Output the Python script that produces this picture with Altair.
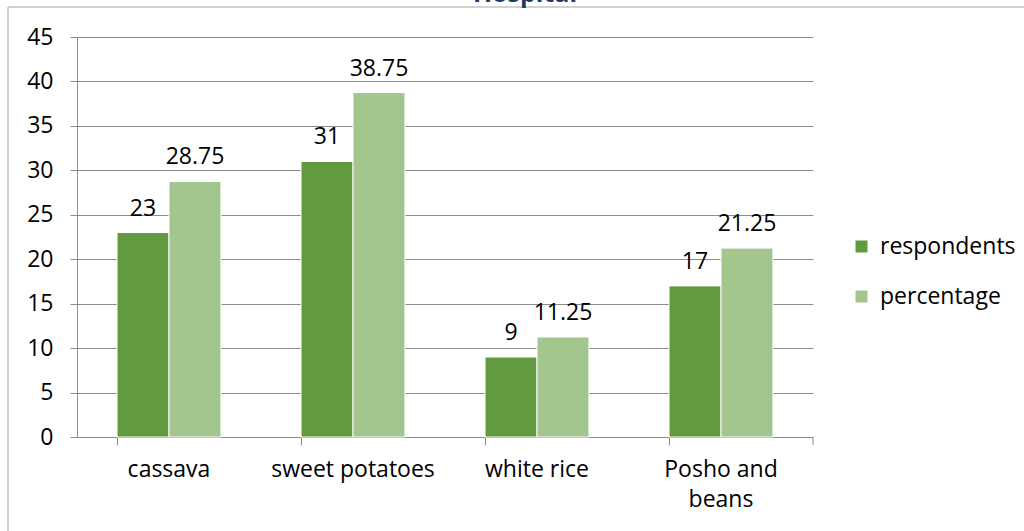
import altair as alt
import pandas as pd

categories = ["cassava", "sweet potatoes", "white rice", "Posho and beans"]
respondents = [23, 31, 9, 17]
percentage = [28.75, 38.75, 11.25, 21.25]
series = ["respondents", "percentage"]
colors = ["#619A3F", "#A3C68F"]
y_ticks = [0, 5, 10, 15, 20, 25, 30, 35, 40, 45]

rows = []
for c, r, p in zip(categories, respondents, percentage):
    rows.append({"cat": c, "series": "respondents", "value": r, "label": f"{r:g}"})
    rows.append({"cat": c, "series": "percentage", "value": p, "label": f"{p:g}"})
df = pd.DataFrame(rows)

FONT = "Open Sans"
GRID = "#8C8C8C"
FS = 23

x_enc = alt.X(
    "cat:N",
    sort=categories,
    title=None,
    scale=alt.Scale(paddingInner=0.435, paddingOuter=0.2175),
    axis=alt.Axis(
        labelAngle=0,
        bandPosition=0,
        tickSize=8,
        tickColor=GRID,
        domainColor=GRID,
        labelPadding=13,
        labelFontSize=FS,
        labelFont=FONT,
        labelColor="#000000",
        labelLineHeight=30,
        labelExpr="datum.label == 'Posho and beans' ? ['Posho and', 'beans'] : datum.label",
        grid=False,
    ),
)
y_enc = alt.Y(
    "value:Q",
    title=None,
    scale=alt.Scale(domain=[0, 45], nice=False),
    axis=alt.Axis(
        values=y_ticks,
        tickSize=7,
        tickColor=GRID,
        domainColor=GRID,
        gridColor=GRID,
        labelPadding=17,
        labelFontSize=FS,
        labelFont=FONT,
        labelColor="#000000",
    ),
)
xoff = alt.XOffset("series:N", sort=series, scale=alt.Scale(paddingInner=0, paddingOuter=0))

base = alt.Chart(df)

bars = base.mark_bar(stroke="white", strokeWidth=1).encode(
    x=x_enc,
    xOffset=xoff,
    y=y_enc,
    color=alt.Color(
        "series:N",
        sort=series,
        scale=alt.Scale(domain=series, range=colors),
        legend=alt.Legend(
            title=None,
            orient="none",
            legendX=773,
            legendY=198,
            symbolType="square",
            symbolSize=144,
            symbolStrokeWidth=0,
            labelFontSize=FS,
            labelFont=FONT,
            labelColor="#000000",
            rowPadding=26,
            labelOffset=7,
        ),
    ),
)

labels = base.mark_text(
    dy=-17, baseline="alphabetic", fontSize=FS, font=FONT, color="#000000"
).encode(
    x=alt.X("cat:N", sort=categories),
    xOffset=xoff,
    y=alt.Y("value:Q"),
    text="label:N",
)

one = alt.Chart(pd.DataFrame({"a": [0]}))
end_tick = one.mark_rule(color=GRID).encode(
    x=alt.value(736), y=alt.value(400), y2=alt.value(408)
)
border = one.mark_rect(fill="transparent", stroke="#A6A6A6", strokeWidth=1).encode(
    x=alt.value(-69), x2=alt.value(1100), y=alt.value(-30), y2=alt.value(700)
)
title = one.mark_text(
    text="Hospital",
    fontSize=25,
    fontWeight="bold",
    font=FONT,
    color="#1F3864",
    align="center",
    baseline="alphabetic",
).encode(x=alt.value(448), y=alt.value(-35))

chart = (
    alt.layer(border, bars, labels, end_tick, title)
    .properties(
        width=736,
        height=400,
        autosize=alt.AutoSizeParams(type="none"),
        padding={"left": 77, "top": 37, "right": 211, "bottom": 94},
        background="white",
    )
    .configure_view(stroke=None)
)

chart.save("out.html", embed_options={"renderer": "svg", "actions": False})
